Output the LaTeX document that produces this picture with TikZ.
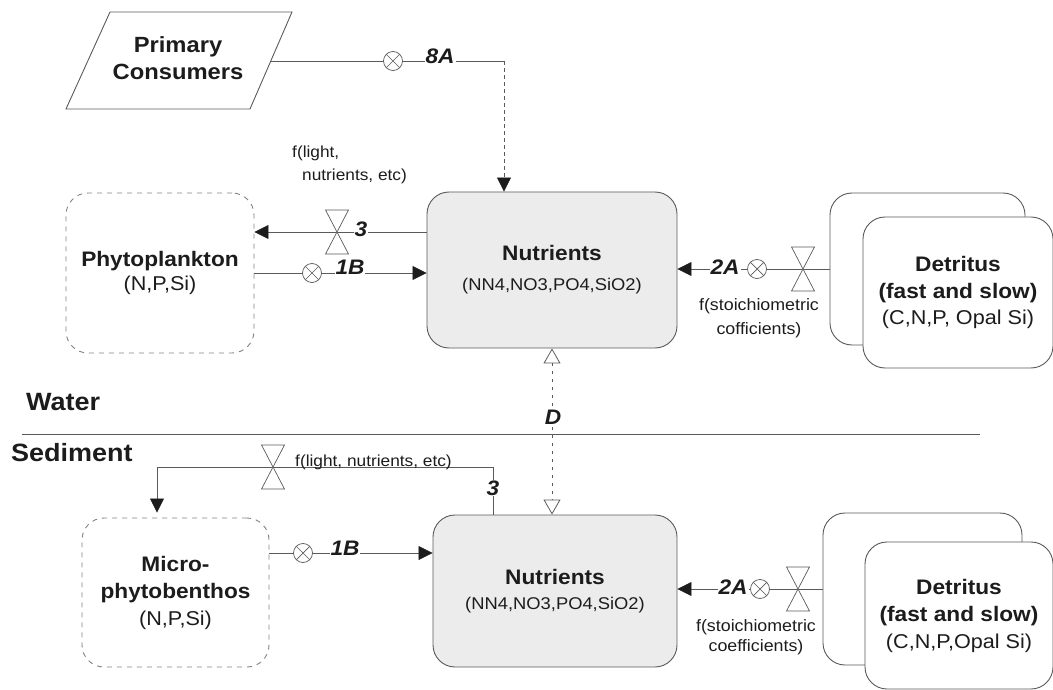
\documentclass[tikz,border=0pt]{standalone}
\usepackage{fontspec}
\setmainfont{Liberation Sans}[FakeStretch=1.08]
\usetikzlibrary{arrows.meta}

\definecolor{ink}{HTML}{1C1C1C}
\definecolor{wire}{HTML}{5A5A5A}
\definecolor{nutfill}{HTML}{ECECEC}

\tikzset{
  pool/.style={draw=wire, line width=0.9pt, rounded corners=22pt, align=center,
    text=ink, inner sep=0pt},
  nutbox/.style={pool, fill=nutfill},
  algbox/.style={pool, draw=wire!75, dash pattern=on 5pt off 5pt},
  detbox/.style={pool, fill=white},
  conn/.style={draw=wire, line width=0.8pt},
  flow/.style={-{Triangle[length=14pt,width=14pt,color=ink]}},
  dtip/.tip={Triangle[open,length=15pt,width=17pt]},
  otimes/.style={circle, draw=wire, fill=white, minimum size=19pt, inner sep=0pt,
    line width=0.7pt,
    path picture={\draw[wire, line width=0.7pt]
      (path picture bounding box.north west) -- (path picture bounding box.south east)
      (path picture bounding box.north east) -- (path picture bounding box.south west);}},
  valve/.pic={\draw[wire, line width=0.7pt, fill=white]
      (-11.5,-22) -- (11.5,-22) -- (-11.5,22) -- (11.5,22) -- cycle;},
  rate/.style={font=\fontsize{21}{24}\selectfont\bfseries\itshape, text=ink,
    inner sep=1pt, fill=white},
  note/.style={font=\fontsize{16.5}{19}\selectfont, text=ink, align=center, inner sep=0pt},
  layer/.style={font=\fontsize{25}{28}\selectfont\bfseries, text=ink, inner sep=0pt, anchor=west},
}

\begin{document}
\begin{tikzpicture}[x=1pt, y=-1pt]
\useasboundingbox (0,0) rectangle (1053,690);

% ---------- water column ----------
% primary consumers (parallelogram)
\draw[wire, line width=0.9pt] (110,12) -- (292,12) -- (250,109) -- (66,109) -- cycle;
\node[align=center, text=ink, font=\fontsize{22}{27}\selectfont\bfseries] (pc) at (178,58)
  {Primary\\Consumers};
\coordinate (pcr) at (271,61);

\node[nutbox, minimum width=250pt, minimum height=156pt,
  font=\fontsize{21}{30}\selectfont] (nutU) at (552,270)
  {{\bfseries Nutrients}\\{\fontsize{17}{30}\selectfont (NN4,NO3,PO4,SiO2)}};

\node[algbox, minimum width=188pt, minimum height=160pt,
  font=\fontsize{21}{24}\selectfont] (phyto) at (160,273)
  {{\bfseries Phytoplankton}\\{\fontsize{20}{24}\selectfont (N,P,Si)}};

\node[detbox, minimum width=195pt, minimum height=152pt] (detUb) at (927.5,269) {};
\node[detbox, minimum width=190pt, minimum height=151pt,
  font=\fontsize{21}{26.5}\selectfont] (detU) at (958,292.5)
  {{\bfseries Detritus}\\{\bfseries (fast and slow)}\\{\fontsize{20}{26.5}\selectfont (C,N,P, Opal Si)}};

% ---------- sediment ----------
\node[nutbox, minimum width=244pt, minimum height=152pt,
  font=\fontsize{21}{25}\selectfont] (nutL) at (555,591)
  {{\bfseries Nutrients}\\{\fontsize{17}{25}\selectfont (NN4,NO3,PO4,SiO2)}};

\node[algbox, minimum width=187pt, minimum height=149pt,
  font=\fontsize{21}{27}\selectfont] (micro) at (175.5,592.5)
  {{\bfseries Micro-}\\{\bfseries phytobenthos}\\{\fontsize{20}{27}\selectfont (N,P,Si)}};

\node[detbox, minimum width=199pt, minimum height=152pt] (detLb) at (922.5,589) {};
\node[detbox, minimum width=188pt, minimum height=147pt,
  font=\fontsize{21}{27}\selectfont] (detL) at (959,615.5)
  {{\bfseries Detritus}\\{\bfseries (fast and slow)}\\{\fontsize{20}{27}\selectfont (C,N,P,Opal Si)}};

% water / sediment interface
\node[layer] (water) at (26,402) {Water};
\node[layer] (sed) at (11,453) {Sediment};
\coordinate (ifl) at (22,434);
\coordinate (ifr) at (980,434);
\draw[wire, line width=1pt] (ifl) -- (ifr);

% ---------- fluxes in the water column ----------
% 8A: grazing return to nutrients
\coordinate (c8) at (504,61);
\draw[conn] (pcr) -- (c8);
\draw[conn, dash pattern=on 4pt off 3pt, flow] (c8) -- (c8 |- nutU.north);
\node[otimes] (ox8) at (393,61) {};
\node[rate] (l8a) at (440,56) {8A};

% 3: uptake by phytoplankton
\coordinate (c3u) at ([yshift=38pt]nutU.west);
\draw[conn, flow] (c3u) -- (c3u -| phyto.east);
\pic (v3u) at (337,232) {valve};
\node[rate] (l3u) at (361,229) {3};
\node[note, align=left, anchor=north west, font=\fontsize{16}{23}\selectfont] (flu) at (292,146)
  {f(light,\\\hspace*{10pt}nutrients, etc)};

% 1B: release by phytoplankton
\draw[conn, flow] (phyto.east) -- (phyto.east -| nutU.west);
\node[otimes] (ox1u) at (312,273) {};
\node[rate] (l1bu) at (350,267) {1B};

% 2A: mineralisation of detritus
\draw[conn, flow] (detUb.west) -- (detUb.west -| nutU.east);
\node[otimes] (ox2u) at (757,269) {};
\pic (v2u) at (803,269) {valve};
\node[rate] (l2au) at (725,267) {2A};
\node[note, font=\fontsize{16.5}{24}\selectfont] (fsu) at (759,318)
  {f(stoichiometric\\cofficients)};

% D: diffusive exchange across the interface
\draw[conn, dash pattern=on 3pt off 5pt, dtip-dtip] (nutU.south) -- (nutU.south |- nutL.north);
\node[rate] (lD) at (553,417) {D};

% ---------- fluxes in the sediment ----------
% 3: uptake by microphytobenthos
\coordinate (c3a) at (493,467);
\coordinate (c3b) at (157,467);
\draw[conn, flow, shorten >=5pt] (c3a |- nutL.north) -- (c3a) -- (c3b) -- (c3b |- micro.north);
\pic (v3l) at (273,467) {valve};
\node[note, anchor=west, font=\fontsize{16}{19}\selectfont] (fll) at (295,462)
  {f(light, nutrients, etc)};
\node[rate] (l3l) at (493,488) {3};

% 1B: release by microphytobenthos
\coordinate (c1l) at ([yshift=39.5pt]micro.east);
\draw[conn, flow] (c1l) -- (c1l -| nutL.west);
\node[otimes] (ox1l) at (303,553) {};
\node[rate] (l1bl) at (345,548) {1B};

% 2A: mineralisation of detritus
\draw[conn, flow] (detLb.west) -- (detLb.west -| nutL.east);
\node[rate] (l2al) at (733,587) {2A};
\node[otimes] (ox2l) at (760,589) {};
\pic (v2l) at (798,589) {valve};
\node[note, font=\fontsize{16.5}{20}\selectfont] (fsl) at (756,637)
  {f(stoichiometric\\coefficients)};
\end{tikzpicture}
\end{document}
